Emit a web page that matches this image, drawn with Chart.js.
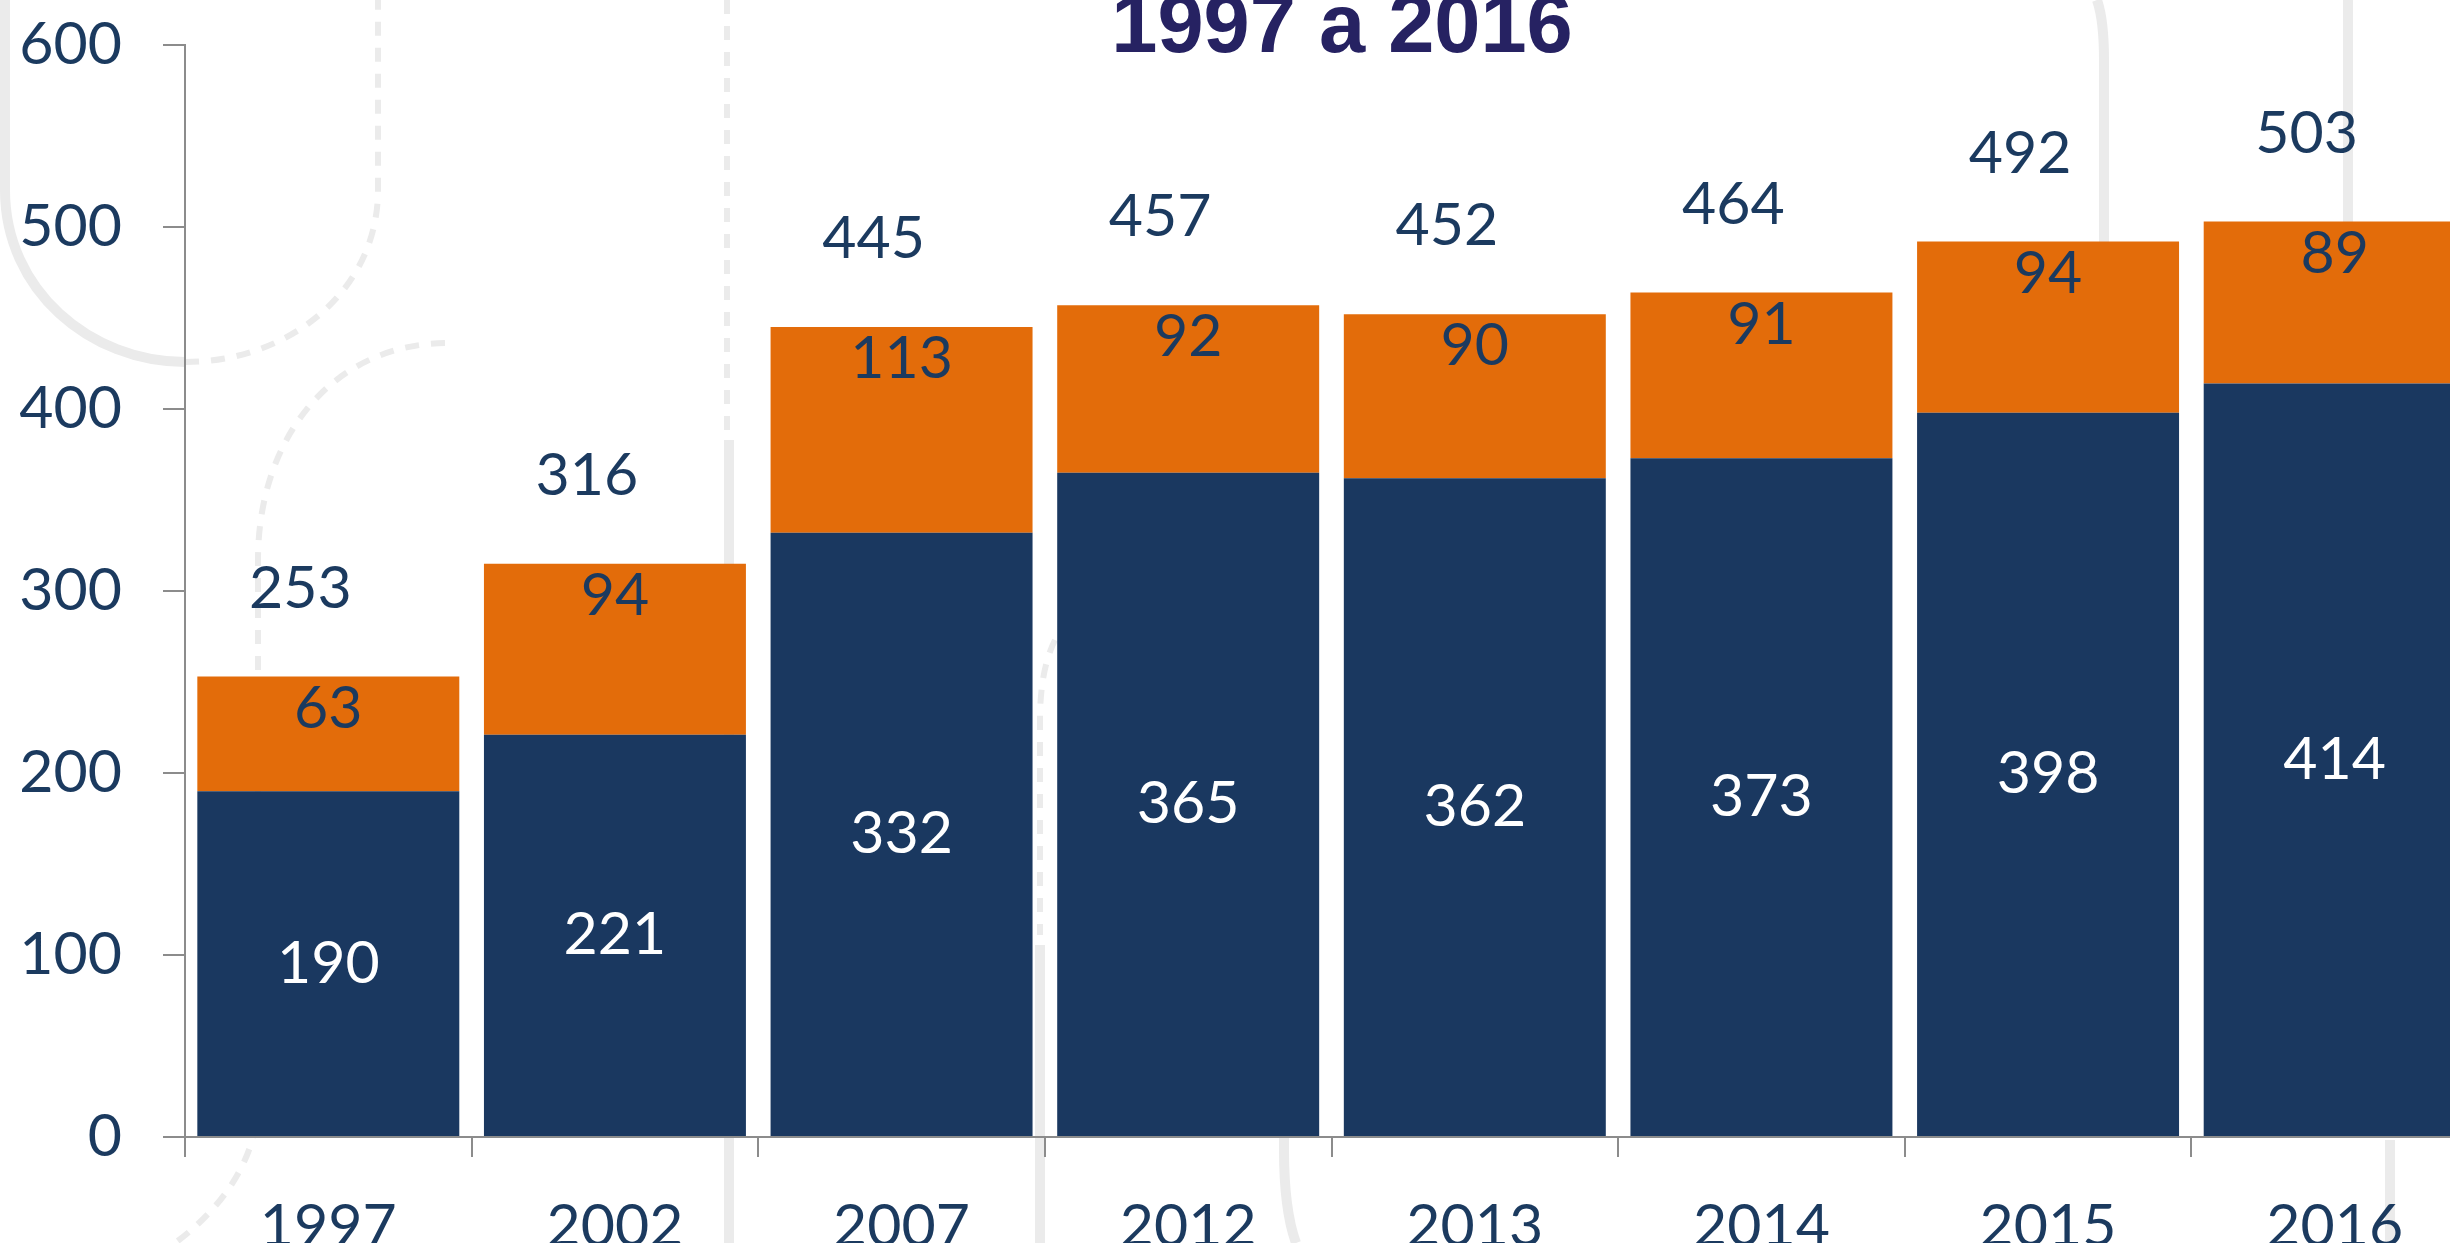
<!DOCTYPE html>
<html>
<head>
<meta charset="utf-8">
<script src="https://cdn.jsdelivr.net/npm/chart.js@4.4.1/dist/chart.umd.min.js"></script>
<style>
  html, body { margin: 0; padding: 0; overflow: hidden; background: #ffffff; }
  #wrap { position: absolute; left: 0; top: 0; }
</style>
</head>
<body>
<div id="wrap"><canvas id="c" width="2480" height="1243"></canvas></div>
<script>
// ---- data ----
const categories = ['1997', '2002', '2007', '2012', '2013', '2014', '2015', '2016'];
const seriesNavy = [190, 221, 332, 365, 362, 373, 398, 414];
const seriesOrange = [63, 94, 113, 92, 90, 91, 94, 89];
const totals = [253, 316, 445, 457, 452, 464, 492, 503];
const yTicks = [0, 100, 200, 300, 400, 500, 600];
const titleText = '1997 a 2016';

// ---- styles ----
const NAVY = '#1A3860';
const ORANGE = '#E36C0A';
const TEXT = '#1B3A5F';
const AXIS = '#8C8C8C';
const DECO = '#EBEBEB';
const FONT = 'Lato';

const decoPlugin = {
  id: 'deco',
  beforeDraw(chart) {
    const ctx = chart.ctx;
    ctx.save();
    ctx.fillStyle = '#ffffff';
    ctx.fillRect(0, 0, chart.width, chart.height);
    ctx.strokeStyle = DECO;
    ctx.lineCap = 'butt';
    ctx.lineWidth = 10;
    ctx.setLineDash([]);
    ctx.beginPath();
    ctx.moveTo(5, 0); ctx.lineTo(5, 190);
    ctx.bezierCurveTo(5, 290, 90, 362, 185, 362);
    ctx.stroke();
    ctx.beginPath();
    ctx.moveTo(729, 440); ctx.lineTo(729, 1243);
    ctx.stroke();
    ctx.beginPath();
    ctx.moveTo(1040, 945); ctx.lineTo(1040, 1243);
    ctx.stroke();
    ctx.beginPath();
    ctx.moveTo(1284, 1000); ctx.lineTo(1284, 1150);
    ctx.quadraticCurveTo(1284, 1210, 1296, 1243);
    ctx.stroke();
    ctx.beginPath();
    ctx.moveTo(2097, 0); ctx.quadraticCurveTo(2104, 20, 2104, 60); ctx.lineTo(2104, 245);
    ctx.stroke();
    ctx.beginPath();
    ctx.moveTo(2348, 0); ctx.lineTo(2348, 225);
    ctx.stroke();
    ctx.beginPath();
    ctx.moveTo(2390, 1140); ctx.lineTo(2390, 1243);
    ctx.stroke();
    ctx.lineWidth = 6;
    ctx.setLineDash([14, 12]);
    ctx.beginPath();
    ctx.moveTo(185, 362);
    ctx.bezierCurveTo(290, 362, 378, 290, 378, 190);
    ctx.lineTo(378, 0);
    ctx.stroke();
    ctx.beginPath();
    ctx.moveTo(727, 0); ctx.lineTo(727, 430);
    ctx.stroke();
    ctx.beginPath();
    ctx.moveTo(445, 343);
    ctx.bezierCurveTo(330, 345, 258, 440, 258, 560);
    ctx.lineTo(258, 1100);
    ctx.bezierCurveTo(258, 1160, 220, 1210, 175, 1243);
    ctx.stroke();
    ctx.beginPath();
    ctx.moveTo(1055, 640);
    ctx.quadraticCurveTo(1040, 670, 1040, 720);
    ctx.lineTo(1040, 935);
    ctx.stroke();
    ctx.restore();
  }
};

const labelPlugin = {
  id: 'labels',
  afterDatasetsDraw(chart) {
    const ctx = chart.ctx;
    const m0 = chart.getDatasetMeta(0);
    const m1 = chart.getDatasetMeta(1);
    ctx.save();
    ctx.font = '59px ' + FONT;
    ctx.textAlign = 'center';
    ctx.textBaseline = 'middle';
    m0.data.forEach((bar, i) => {
      ctx.fillStyle = '#ffffff';
      ctx.fillText(String(seriesNavy[i]), bar.x, (bar.y + bar.base) / 2);
    });
    m1.data.forEach((bar, i) => {
      ctx.fillStyle = TEXT;
      ctx.fillText(String(seriesOrange[i]), bar.x, bar.y + 32);
      ctx.fillText(String(totals[i]), bar.x - 28, bar.y - 88);
    });
    ctx.restore();
  },
  afterDraw(chart) {
    const ctx = chart.ctx;
    ctx.save();
    ctx.font = 'bold 83px "Liberation Sans", Arial, sans-serif';
    ctx.fillStyle = '#262262';
    ctx.textAlign = 'center';
    ctx.textBaseline = 'alphabetic';
    ctx.fillText(titleText, 1342, 52);
    ctx.restore();
  }
};

new Chart(document.getElementById('c'), {
  type: 'bar',
  data: {
    labels: categories,
    datasets: [
      { label: 'A', data: seriesNavy, backgroundColor: NAVY, borderWidth: 0,
        categoryPercentage: 1.0, barPercentage: 0.914 },
      { label: 'B', data: seriesOrange, backgroundColor: ORANGE, borderWidth: 0,
        categoryPercentage: 1.0, barPercentage: 0.914 }
    ]
  },
  options: {
    responsive: false,
    animation: false,
    devicePixelRatio: 1,
    layout: { padding: { top: 45, left: 0, right: 2, bottom: 0 } },
    plugins: { legend: { display: false }, tooltip: { enabled: false }, title: { display: false } },
    scales: {
      x: {
        stacked: true,
        offset: true,
        grid: { display: true, drawOnChartArea: false, offset: true, tickLength: 20, color: AXIS, lineWidth: 2 },
        border: { display: true, color: AXIS, width: 2 },
        ticks: { color: TEXT, font: { family: FONT, size: 59 }, padding: 35, maxRotation: 0, autoSkip: false },
        afterFit: (s) => { s.height = 106; s.paddingLeft = 0; s.paddingRight = 0; }
      },
      y: {
        stacked: true,
        min: 0, max: 600,
        afterBuildTicks: (s) => { s.ticks = yTicks.map(v => ({ value: v })); },
        grid: { display: true, drawOnChartArea: false, tickLength: 22, color: AXIS, lineWidth: 2 },
        border: { display: true, color: AXIS, width: 2 },
        ticks: { color: TEXT, font: { family: FONT, size: 59 }, padding: 41 },
        afterFit: (s) => { s.width = 185; s.paddingTop = 0; s.paddingBottom = 0; }
      }
    }
  },
  plugins: [decoPlugin, labelPlugin]
});
</script>
</body>
</html>
